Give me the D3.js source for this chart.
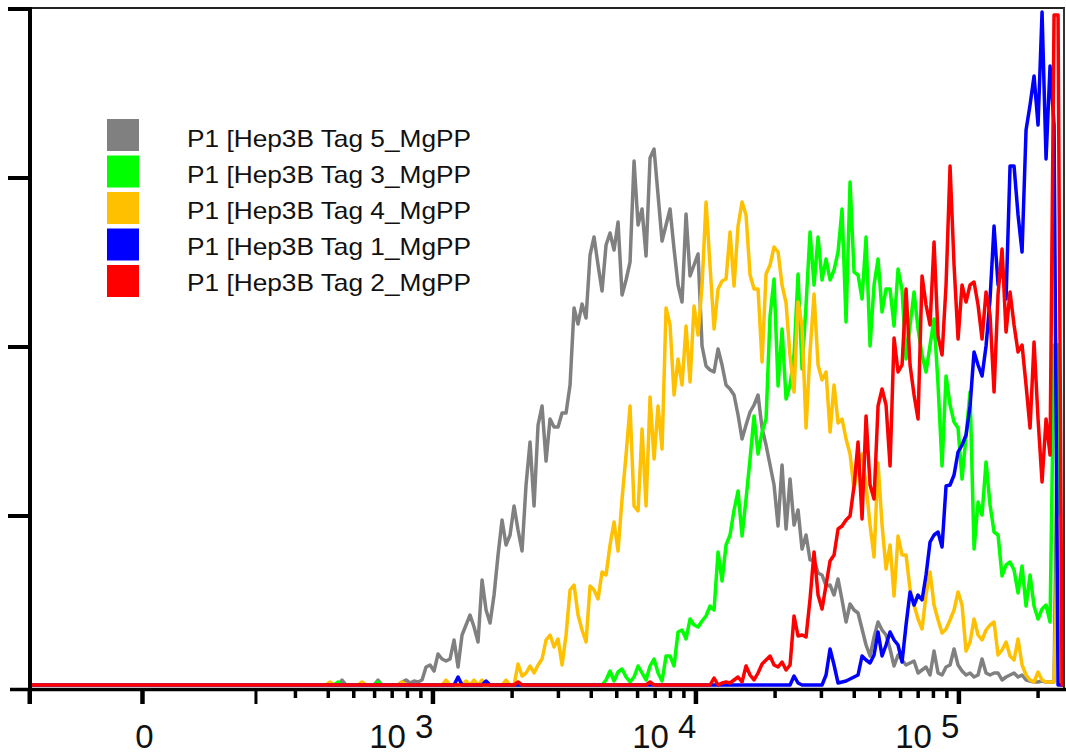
<!DOCTYPE html>
<html><head><meta charset="utf-8">
<script src="https://cdn.jsdelivr.net/npm/d3@7/dist/d3.min.js"></script>
<style>html,body{margin:0;padding:0;background:#fff;}svg{display:block;}</style>
</head><body>
<svg id="chart" width="1066" height="755"></svg>
<script>
// ---------- data ----------
const seriesNames = ["P1 [Hep3B Tag 5_MgPP","P1 [Hep3B Tag 3_MgPP","P1 [Hep3B Tag 4_MgPP","P1 [Hep3B Tag 1_MgPP","P1 [Hep3B Tag 2_MgPP"];
const seriesColors = ["#808080","#00ff00","#ffc000","#0000ff","#ff0000"];

// histogram bins, evenly spaced on the biexponential display scale
const binCount = 259;
const binStart = 1.468;
const binWidth = 0.01521;

const xMajorTicks = [0, 1000, 10000, 100000];
const xEdgeTicks = [-200, 200];
const xMinorTicks = [300,400,500,600,700,800,900,2000,3000,4000,5000,6000,7000,8000,9000,20000,30000,40000,50000,60000,70000,80000,90000,200000];
const xLabelBase = ["0","10","10","10"];
const xLabelExp = ["","3","4","5"];
const yTicks = [0,169,338,507,676];

const tag5 = [
0,0,0,0,0,0,0,0,0,0,
0,0,0,0,0,0,0,0,0,0,
0,0,0,0,0,0,0,0,0,0,
0,0,0,0,0,0,0,0,0,0,
0,0,0,0,0,0,0,0,0,0,
0,0,0,0,0,0,0,0,0,0,
0,0,0,0,0,0,0,0,0,0,
0,0,0,0,0,0,0,0,5,0,
0,0,0,0,0,0,0,5,0,0,
0,0,0,3,5,2,4,3,5,18,
20,14,31,26,24,26,45,18,50,60,
70,58,43,105,75,62,90,130,165,140,
150,179,155,134,200,243,179,260,279,224,
266,258,258,272,272,300,377,361,381,367,
430,448,420,394,440,452,435,463,390,405,
423,524,460,476,429,527,536,490,444,460,
476,436,400,383,471,409,420,431,339,319,
315,313,336,320,300,296,290,270,246,260,
273,280,290,257,240,220,200,159,220,156,
206,160,175,136,150,125,125,112,110,99,
100,90,106,85,63,81,75,72,56,40,
29,48,63,55,50,36,19,30,25,20,
22,24,12,15,18,10,34,12,10,18,
20,36,20,14,10,12,8,10,26,12,
10,12,12,5,8,10,12,8,10,5,
4,3,3,4,3,3,3,320,0];

const tag3 = [
0,0,0,0,0,0,0,0,0,0,
0,0,0,0,0,0,0,0,0,0,
0,0,0,0,0,0,0,0,0,0,
0,0,0,0,0,0,0,0,0,0,
0,0,0,0,0,0,0,0,0,0,
0,0,0,0,0,0,0,0,0,0,
0,0,0,0,0,0,0,0,0,0,
0,0,0,0,0,0,0,3,0,0,
0,0,0,0,0,0,0,3,0,0,
0,0,0,0,0,0,0,0,0,0,
0,0,0,0,0,0,0,0,0,0,
0,0,0,0,0,0,0,0,0,0,
0,0,0,0,0,0,0,0,0,0,
0,0,0,0,0,0,0,0,0,0,
0,0,0,0,5,14,4,13,16,8,
3,8,19,12,5,19,26,12,4,29,
29,19,53,55,46,66,60,58,64,69,
79,75,133,104,140,150,175,194,149,186,
226,269,231,253,266,369,406,299,356,286,
300,330,411,316,380,453,400,448,405,426,
405,415,433,476,363,503,413,410,386,448,
339,400,426,373,396,396,359,416,395,326,
360,393,356,330,313,340,366,300,219,309,
280,263,257,206,249,293,136,183,170,223,
180,153,150,109,120,123,115,92,119,79,
110,79,66,76,80,63,340,340,0];

const tag4 = [
0,0,0,0,0,0,0,0,0,0,
0,0,0,0,0,0,0,0,0,0,
0,0,0,0,0,0,0,0,0,0,
0,0,0,0,0,0,0,0,0,0,
0,0,0,0,0,0,0,0,0,0,
0,0,0,0,0,0,0,0,0,0,
0,0,0,0,0,0,0,0,0,0,
0,0,0,0,0,3,0,0,0,0,
0,0,0,3,0,0,0,0,0,0,
0,0,0,3,0,0,0,0,0,0,
0,0,0,0,5,0,0,0,0,4,
0,5,0,5,0,0,0,0,0,5,
0,0,21,9,12,19,12,20,26,45,
50,38,46,20,50,95,100,70,55,43,
99,95,86,113,110,140,163,134,186,230,
279,179,174,256,179,288,226,279,236,377,
360,290,326,300,359,303,379,350,400,483,
419,356,396,404,406,453,399,459,483,470,
410,396,396,323,411,420,438,433,400,382,
329,293,383,359,257,333,391,320,305,313,
253,300,262,266,246,231,196,220,231,200,
160,128,222,160,116,140,89,149,130,130,
96,80,66,56,90,113,80,65,52,56,
65,75,93,80,34,43,66,50,45,55,
60,63,30,35,43,29,25,46,20,10,
5,3,13,5,3,3,3,168,0];

const tag1 = [
0,0,0,0,0,0,0,0,0,0,
0,0,0,0,0,0,0,0,0,0,
0,0,0,0,0,0,0,0,0,0,
0,0,0,0,0,0,0,0,0,0,
0,0,0,0,0,0,0,0,0,0,
0,0,0,0,0,0,0,0,0,0,
0,0,0,0,0,0,0,0,0,0,
0,0,0,0,0,0,0,0,0,0,
0,0,0,0,0,0,0,0,0,0,
0,0,0,0,0,0,0,0,0,0,
0,0,0,0,0,0,0,8,0,0,
0,0,0,0,4,0,0,0,0,0,
0,0,0,0,0,0,0,0,0,0,
0,0,0,0,0,0,0,0,0,0,
0,0,0,0,0,0,0,0,0,0,
0,0,0,0,0,0,0,0,0,0,
0,0,0,0,0,0,0,0,0,0,
0,0,0,0,0,0,0,0,0,0,
0,0,0,0,0,0,0,0,0,0,
0,9,2,0,0,0,0,0,0,10,
36,20,2,3,4,6,8,10,29,25,
22,30,53,29,40,53,45,40,23,60,
93,80,90,85,110,143,150,153,138,199,
200,210,233,240,250,279,333,320,309,339,
386,459,400,419,386,519,519,470,433,555,
580,609,560,673,526,619,560,0,0];

const tag2 = [
0,0,0,0,0,0,0,0,0,0,
0,0,0,0,0,0,0,0,0,0,
0,0,0,0,0,0,0,0,0,0,
0,0,0,0,0,0,0,0,0,0,
0,0,0,0,0,0,0,0,0,0,
0,0,0,0,0,0,0,0,0,0,
0,0,0,0,0,0,0,0,0,0,
0,0,0,0,0,0,0,0,0,0,
0,0,0,0,0,0,0,0,0,0,
0,0,0,0,0,0,0,0,0,0,
0,0,0,0,0,0,0,0,0,0,
0,0,0,0,0,0,0,0,0,0,
0,0,3,0,0,0,0,0,0,0,
0,0,0,0,0,0,0,0,0,0,
0,0,0,0,0,0,0,0,0,0,
0,0,0,0,0,3,0,0,0,0,
0,0,0,0,0,0,0,0,0,0,
0,7,0,2,3,2,5,8,3,19,
10,5,12,21,25,29,20,18,23,15,
20,69,49,50,48,86,133,90,76,100,
124,130,156,159,165,169,199,243,166,269,
200,186,279,296,280,219,347,313,320,396,
320,290,266,409,380,360,443,349,330,400,
519,420,346,400,383,400,403,380,346,393,
370,293,391,436,353,393,360,333,340,300,
257,343,266,203,266,230,670,670,0];

const seriesValues = [tag5, tag3, tag4, tag1, tag2];

// ---------- scales ----------
// biexponential-like display transform: linear near zero, log above
const lowPart = d3.scaleLinear().domain([-200, 200, 300]).range([1.464, 2.327, Math.log10(300)]);
const biex = v => v >= 300 ? Math.log10(v) : lowPart(v);
const x = d3.scaleLinear().domain([1.464, 5.392]).range([29, 1062]);
const y = d3.scaleLinear().domain([0, 676]).range([685, 9]);
const binT = d3.range(binCount).map(i => binStart + i * binWidth);

const svg = d3.select("#chart");
const font = "'Liberation Sans', Arial, Helvetica, sans-serif";

// ---------- data lines ----------
const line = d3.line().x((d, i) => x(binT[i])).y(d => y(d));
seriesValues.forEach((vals, k) => {
  svg.append("path")
    .attr("d", line(vals))
    .attr("fill", "none")
    .attr("stroke", seriesColors[k])
    .attr("stroke-width", 3.5)
    .attr("stroke-linejoin", "round")
    .attr("stroke-linecap", "round");
});

// ---------- frame ----------
svg.append("line").attr("x1", 30).attr("x2", 1065).attr("y1", 8).attr("y2", 8)
  .attr("stroke", "#222").attr("stroke-width", 2);
svg.append("line").attr("x1", 1064).attr("x2", 1064).attr("y1", 8).attr("y2", 689)
  .attr("stroke", "#333").attr("stroke-width", 2);

// y axis
svg.append("line").attr("x1", 30).attr("x2", 30).attr("y1", 7).attr("y2", 704)
  .attr("stroke", "#000").attr("stroke-width", 4);
yTicks.forEach(v => {
  svg.append("line").attr("x1", 8).attr("x2", 30).attr("y1", y(v)).attr("y2", y(v))
    .attr("stroke", "#000").attr("stroke-width", v === 0 ? 0 : 4);
});

// x axis
svg.append("line").attr("x1", 10).attr("x2", 1066).attr("y1", 689.5).attr("y2", 689.5)
  .attr("stroke", "#000").attr("stroke-width", 3.5);
xMajorTicks.forEach(v => {
  svg.append("line").attr("x1", x(biex(v))).attr("x2", x(biex(v))).attr("y1", 690).attr("y2", 704)
    .attr("stroke", "#000").attr("stroke-width", 4.5);
});
xEdgeTicks.forEach(v => {
  svg.append("line").attr("x1", x(biex(v))).attr("x2", x(biex(v))).attr("y1", 690).attr("y2", 704)
    .attr("stroke", "#000").attr("stroke-width", 3);
});
xMinorTicks.forEach(v => {
  svg.append("line").attr("x1", x(biex(v))).attr("x2", x(biex(v))).attr("y1", 690).attr("y2", 698)
    .attr("stroke", "#000").attr("stroke-width", 3.5);
});

// x tick labels
xMajorTicks.forEach((v, i) => {
  const px = x(biex(v));
  if (xLabelExp[i] === "") {
    svg.append("text").attr("x", px + 2).attr("y", 748).attr("text-anchor", "middle")
      .attr("font-family", font).attr("font-size", 33).attr("fill", "#111").text(xLabelBase[i]);
  } else {
    svg.append("text").attr("x", px - 27).attr("y", 748).attr("text-anchor", "end")
      .attr("font-family", font).attr("font-size", 33).attr("fill", "#111").text(xLabelBase[i]);
    svg.append("text").attr("x", px - 18).attr("y", 738).attr("text-anchor", "start")
      .attr("font-family", font).attr("font-size", 33).attr("fill", "#111").text(xLabelExp[i]);
  }
});

// ---------- legend ----------
seriesNames.forEach((name, i) => {
  svg.append("rect").attr("x", 107).attr("y", 119 + i * 36.5).attr("width", 32).attr("height", 32)
    .attr("fill", seriesColors[i]);
  svg.append("text").attr("x", 187).attr("y", 146.5 + i * 36)
    .attr("font-family", font).attr("font-size", 24).attr("fill", "#111")
    .attr("textLength", 284).attr("lengthAdjust", "spacingAndGlyphs")
    .text(name);
});
</script>
</body></html>
